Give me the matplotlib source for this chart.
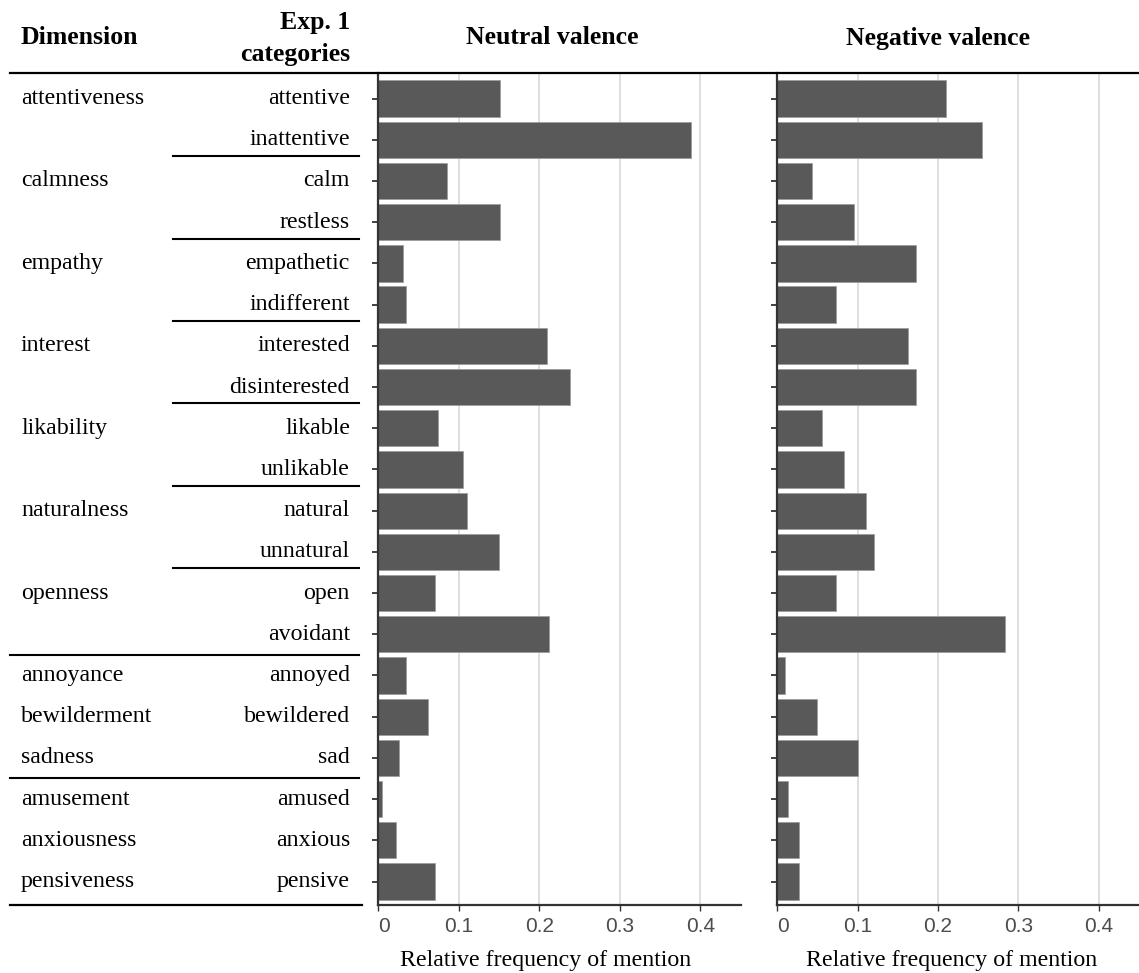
import numpy as np
import matplotlib
matplotlib.use("Agg")
import matplotlib.pyplot as plt
from matplotlib.lines import Line2D

# ================================================================
# DONNÉES
# ================================================================
DIMENSIONS = ["attentiveness", "", "calmness", "", "empathy", "", "interest", "",
              "likability", "", "naturalness", "", "openness", "",
              "annoyance", "bewilderment", "sadness",
              "amusement", "anxiousness", "pensiveness"]
CATEGORIES = ["attentive", "inattentive", "calm", "restless", "empathetic", "indifferent",
              "interested", "disinterested", "likable", "unlikable", "natural", "unnatural",
              "open", "avoidant", "annoyed", "bewildered", "sad",
              "amused", "anxious", "pensive"]
NEUTRAL = [0.151, 0.389, 0.085, 0.151, 0.031, 0.035, 0.209, 0.238, 0.074, 0.105,
           0.110, 0.150, 0.070, 0.212, 0.035, 0.062, 0.026, 0.004, 0.0215, 0.070]
NEGATIVE = [0.210, 0.255, 0.043, 0.096, 0.173, 0.073, 0.163, 0.173, 0.056, 0.083,
            0.110, 0.120, 0.073, 0.283, 0.0095, 0.050, 0.100, 0.013, 0.0265, 0.0265]
PANEL_TITLES = ["Neutral valence", "Negative valence"]
XTICKS = [0, 0.1, 0.2, 0.3, 0.4]
XTICKLABELS = ["0", "0.1", "0.2", "0.3", "0.4"]
PAIR_BREAKS = [1.5, 3.5, 5.5, 7.5, 9.5, 11.5]
GROUP_BREAKS = [13.5, 16.5]

# ================================================================
# MISE EN PAGE
# ================================================================
plt.rcParams['font.family'] = ['Liberation Serif', 'DejaVu Serif']
W, H = 1139, 973
fy = lambda py: 1 - py / H

BOTTOM, TOP = fy(905), fy(73)
HGT = TOP - BOTTOM
YLIM = (19.57, -0.62)
BAR_COL = '#595959'
SPINE_COL = '#333333'
FS_TXT = 17.2
FS_HEAD = 18.5

fig = plt.figure(figsize=(W / 100, H / 100), dpi=100)
ax1 = fig.add_axes([378.3 / W, BOTTOM, 362.2 / W, HGT])
ax2 = fig.add_axes([777.3 / W, BOTTOM, (W - 777.3) / W, HGT])
axt = fig.add_axes([0, BOTTOM, 378.3 / W, HGT])

y = np.arange(len(CATEGORIES))

for ax, vals, lab_x in [(ax1, NEUTRAL, 0.463), (ax2, NEGATIVE, 0.483)]:
    ax.barh(y, vals, height=0.88, color=BAR_COL, edgecolor='#9a9a9a', linewidth=0.5, zorder=2)
    ax.set_xlim(0, 0.45)
    ax.set_ylim(*YLIM)
    ax.set_xticks(XTICKS)
    ax.set_xticklabels(XTICKLABELS, fontfamily='Liberation Sans')
    ax.xaxis.get_ticklabels()[0].set_ha('left')
    ax.set_yticks(y)
    ax.set_yticklabels([])
    ax.grid(axis='x', color='#dcdcdc', lw=1.3, zorder=0)
    ax.set_axisbelow(True)
    for s in ['top', 'right']:
        ax.spines[s].set_visible(False)
    for s in ['left', 'bottom']:
        ax.spines[s].set_color(SPINE_COL)
        ax.spines[s].set_linewidth(1.6)
    ax.tick_params(axis='y', length=4, width=1.3, color=SPINE_COL)
    ax.tick_params(axis='x', length=4, width=1.0, color=SPINE_COL,
                   labelcolor='#4d4d4d', labelsize=15, pad=5)
    ax.set_xlabel("Relative frequency of mention", fontsize=FS_TXT)
    ax.xaxis.set_label_coords(lab_x, -0.054)

for t, tx in zip(PANEL_TITLES, [552, 938]):
    fig.text(tx / W, fy(38), t, ha='center', va='center', fontsize=FS_HEAD, fontweight='bold')

# --- Tableau à gauche ---
axt.set_xlim(0, 378.3)
axt.set_ylim(*YLIM)
axt.axis('off')
for i in range(len(CATEGORIES)):
    if DIMENSIONS[i]:
        axt.text(21, i, DIMENSIONS[i], ha='left', va='center', fontsize=FS_TXT)
    axt.text(350, i, CATEGORIES[i], ha='right', va='center', fontsize=FS_TXT)
for b in PAIR_BREAKS:
    axt.plot([173, 359], [b - 0.1, b - 0.1], color='black', lw=1.5, clip_on=False)
for b in GROUP_BREAKS:
    axt.plot([10, 359], [b, b], color='black', lw=1.5, clip_on=False)
axt.plot([10, 362], [YLIM[0], YLIM[0]], color='black', lw=1.6, clip_on=False)

# En-têtes
fig.text(21 / W, fy(38), "Dimension", ha='left', va='center', fontsize=FS_HEAD, fontweight='bold')
fig.text(350 / W, fy(22), "Exp. 1", ha='right', va='center', fontsize=FS_HEAD, fontweight='bold')
fig.text(350 / W, fy(54), "categories", ha='right', va='center', fontsize=FS_HEAD, fontweight='bold')
fig.add_artist(Line2D([10 / W, 1], [fy(73), fy(73)], color='black', lw=1.6))

plt.savefig("out.png", dpi=100)
